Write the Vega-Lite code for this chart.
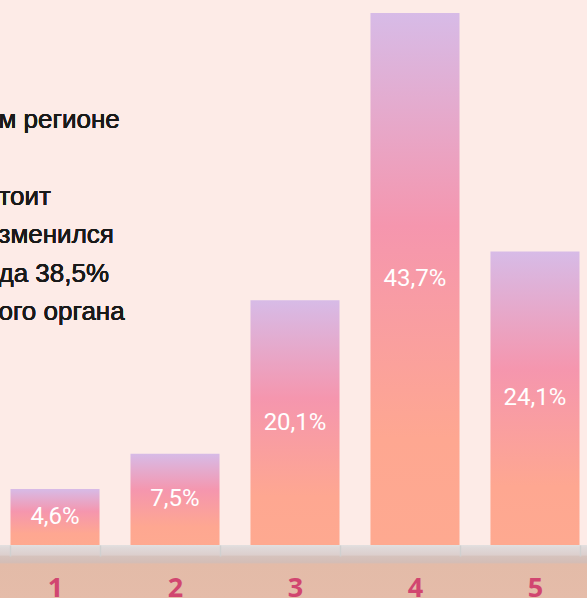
{
  "$schema": "https://vega.github.io/schema/vega-lite/v6.json",
  "width": 590,
  "height": 598,
  "autosize": {"type": "none"},
  "padding": 0,
  "background": "#fdebe7",
  "config": {
    "view": {"stroke": null},
    "locale": {"number": {"decimal": ",", "thousands": " ", "grouping": [3], "currency": ["", "%"]}}
  },
  "data": {"values": [
    {"cat": "1", "value": 4.6},
    {"cat": "2", "value": 7.5},
    {"cat": "3", "value": 20.1},
    {"cat": "4", "value": 43.7},
    {"cat": "5", "value": 24.1}
  ]},
  "layer": [
    {
      "layer": [
        {
          "mark": {"type": "rect", "color": {"gradient": "linear", "x1": 0, "y1": 0, "x2": 0, "y2": 1, "stops": [
            {"offset": 0, "color": "#e3e0e0"},
            {"offset": 0.05, "color": "#e0d9d9"},
            {"offset": 0.19, "color": "#dccfcd"},
            {"offset": 0.21, "color": "#d6c3bd"},
            {"offset": 0.33, "color": "#d4bdb6"},
            {"offset": 0.36, "color": "#e3bba8"},
            {"offset": 1, "color": "#e5bca9"}
          ]}},
          "encoding": {
            "y": {"datum": 0, "type": "quantitative", "scale": {"domain": [-4.355, 44.77], "nice": false, "zero": false}, "axis": null},
            "y2": {"datum": -4.355}
          }
        },
        {
          "mark": {"type": "bar", "color": {"gradient": "linear", "x1": 0, "y1": 0, "x2": 0, "y2": 1, "stops": [
            {"offset": 0, "color": "#d7bbe7"},
            {"offset": 0.4, "color": "#f596ae"},
            {"offset": 0.8, "color": "#fea791"},
            {"offset": 1, "color": "#fea990"}
          ]}},
          "encoding": {
            "x": {"field": "cat", "type": "nominal", "scale": {"paddingInner": 0.258, "paddingOuter": 0.0875},
              "axis": {"title": null, "orient": "bottom", "offset": -53, "domain": false, "ticks": true, "tickBand": "extent", "tickSize": 11, "tickColor": "#d0d0d0", "tickWidth": 1.5,
                "labelFont": "Open Sans", "labelFontWeight": "bold", "labelFontSize": 27, "labelColor": "#d14670", "labelAngle": 0, "labelBaseline": "alphabetic", "labelPadding": 40, "zindex": 1}},
            "y": {"field": "value", "type": "quantitative", "axis": null},
            "y2": {"datum": 0}
          }
        },
        {
          "mark": {"type": "text", "text": ["м регионе", "\u200b", "тоит", "зменился", "да 38,5%", "ого органа"], "font": "Liberation Sans", "fontSize": 26, "lineHeight": 38.5, "align": "left", "baseline": "alphabetic", "color": "#1a1a1a", "dx": -12},
          "encoding": {
            "x": {"datum": "1", "type": "nominal", "bandPosition": 0},
            "y": {"datum": 34.26, "type": "quantitative"}
          }
        }
      ]
    },
    {
      "mark": {"type": "text", "font": "Roboto", "fontSize": 24, "color": "#ffffff", "baseline": "middle", "align": "center"},
      "encoding": {
        "x": {"field": "cat", "type": "nominal"},
        "y": {"field": "value", "type": "quantitative", "scale": {"domain": [-8.71, 89.54], "nice": false, "zero": false}, "axis": null},
        "text": {"field": "value", "type": "quantitative", "format": "$.1f"}
      }
    }
  ],
  "resolve": {"scale": {"y": "independent"}}
}
